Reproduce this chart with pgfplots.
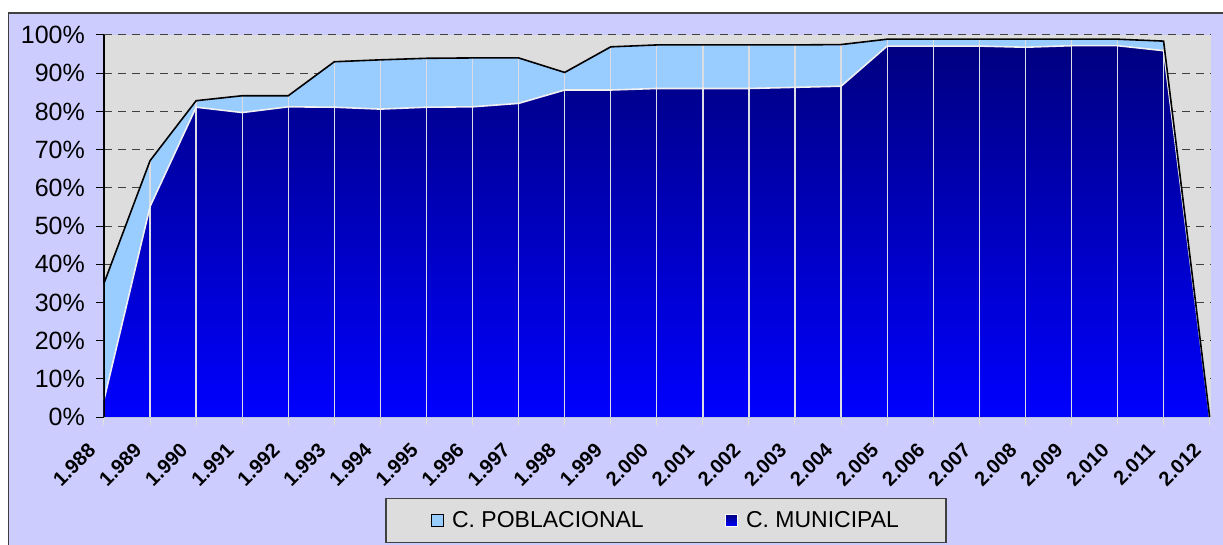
\documentclass[border=0pt]{standalone}
\usepackage{pgfplots}
\pgfplotsset{compat=1.18}
\usepackage{pgfplotstable}
\usepackage{fontspec}
\setmainfont{Liberation Sans}
\definecolor{lav}{RGB}{204,204,255}
\definecolor{plotbg}{RGB}{221,221,221}
\definecolor{lblue}{RGB}{153,204,255}
\definecolor{navy}{RGB}{0,0,128}
\definecolor{bblue}{RGB}{0,0,255}
\definecolor{vline}{RGB}{220,220,228}
\definecolor{xaxis}{RGB}{226,226,214}
\definecolor{topline}{RGB}{245,245,200}
\pgfplotstableread{
year mun tot
1988 4.5 35.0
1989 55.1 67.1
1990 81.1 82.8
1991 79.7 84.1
1992 81.2 84.1
1993 81.1 93.0
1994 80.6 93.5
1995 81.1 93.9
1996 81.2 94.0
1997 82.1 94.0
1998 85.6 90.2
1999 85.6 96.9
2000 86.0 97.4
2001 86.0 97.4
2002 86.0 97.4
2003 86.3 97.4
2004 86.6 97.5
2005 97.1 98.9
2006 97.1 98.9
2007 97.1 98.9
2008 96.8 98.9
2009 97.2 98.9
2010 97.2 98.9
2011 95.9 98.4
2012 0 0
}\data
\begin{document}
\begin{tikzpicture}[x=1pt,y=1pt]
\useasboundingbox (0,0) rectangle (1223,544);
\fill[white] (0,0) rectangle (1223,544);
\draw[fill=lav, draw=black!75, line width=1.2pt] (8.5,-5) rectangle (1235,531);
\begin{axis}[
  at={(104pt,127pt)}, anchor=south west,
  scale only axis, width=1107pt, height=382pt,
  xmin=1988, xmax=2012.03, ymin=0, ymax=100,
  axis background/.style={fill=plotbg},
  axis x line*=bottom, axis y line*=left,
  x axis line style={draw=xaxis, line width=1.5pt},
  y axis line style={draw=black, line width=1.2pt},
  xtick={1988,...,2012},
  xticklabels={1.988,1.989,1.990,1.991,1.992,1.993,1.994,1.995,1.996,1.997,1.998,1.999,2.000,2.001,2.002,2.003,2.004,2.005,2.006,2.007,2.008,2.009,2.010,2.011,2.012},
  ytick={0,10,...,90},
  yticklabels={0\%,10\%,20\%,30\%,40\%,50\%,60\%,70\%,80\%,90\%},
  extra y ticks={100},
  extra y tick labels={100\%},
  extra y tick style={grid style={draw=topline, solid, line width=1.5pt}},
  tick align=outside, major tick length=8pt,
  xtick style={draw=xaxis, line width=1pt},
  ytick style={draw=black, line width=1pt},
  ymajorgrids,
  y grid style={draw=black!75, line width=1pt, dash pattern=on 8pt off 6pt},
  xticklabel style={font=\fontsize{20}{23}\selectfont\bfseries, xshift=-12pt, yshift=-22pt, rotate=45, anchor=east, inner sep=0pt},
  yticklabel style={font=\fontsize{25}{29}\selectfont, anchor=east, inner sep=0pt, xshift=-11pt},
  legend style={at={(axis description cs:0.5077,-0.271)}, anchor=center,
    fill=plotbg, draw=black!75, line width=1.2pt, legend columns=2,
    font=\fontsize{23}{27}\selectfont, inner xsep=45pt, inner ysep=11pt,
    /tikz/every even column/.append style={column sep=0pt}},
  legend cell align=left,
]
\addplot[fill=lblue, draw=none, area legend,
  legend image code/.code={\draw[fill=lblue, draw=black, line width=1pt] (0pt,-6pt) rectangle (12pt,6pt);}]
  table[x=year, y=tot] {\data} \closedcycle;
\addlegendentry{\hspace{6pt}\makebox[271pt][l]{C. POBLACIONAL}}
\addplot[draw=none, top color=navy, bottom color=bblue, area legend,
  legend image code/.code={\draw[fill={rgb,255:red,0;green,0;blue,200}, draw=white, line width=1pt] (0pt,-6pt) rectangle (12pt,6pt);}]
  table[x=year, y=mun] {\data} \closedcycle;
\addlegendentry{\hspace{6pt}C. MUNICIPAL}
\addplot[ycomb, draw=vline, line width=1.3pt, no marks, forget plot, restrict x to domain=1989:2011]
  table[x=year, y=tot] {\data};
\addplot[draw=white!88!gray, line width=1.6pt, no marks, forget plot]
  table[x=year, y=mun] {\data};
\addplot[draw=black, line width=1.6pt, no marks, forget plot]
  table[x=year, y=tot] {\data};
\draw[black, line width=1.2pt] (rel axis cs:0,0) -- (rel axis cs:0,1);
\end{axis}
\end{tikzpicture}
\end{document}
